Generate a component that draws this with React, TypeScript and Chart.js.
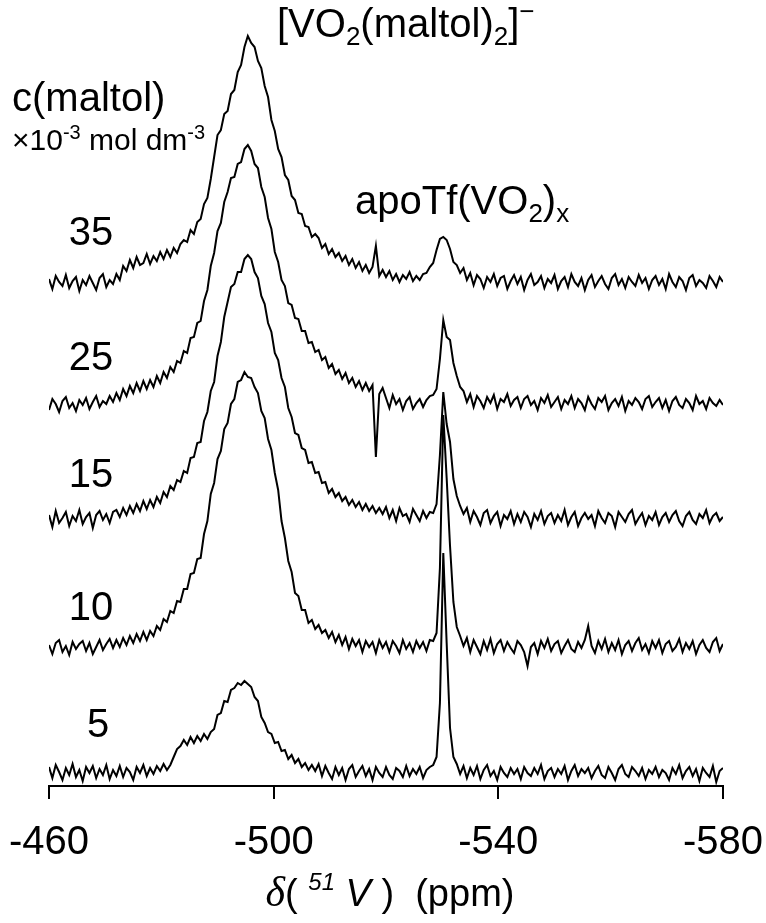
import { useEffect, useRef } from 'react';
import { Chart, registerables } from 'chart.js';

Chart.register(...registerables);

// 51V NMR spectra of apo-transferrin / vanadate with increasing maltol, stacked
const ppmStart = -460;
const ppmStep = -0.6;
const concentrations = ['35', '25', '15', '10', '5'];
const baselineOffsets = [50.3, 38.1, 26.6, 13.8, 1.3];
const xTickValues = [-460, -500, -540, -580];

const spectrum35 = [
  0.4, -0.6, 0.7, 0.1, -0.3, 0.8, -0.5, 0.2, 0.6, -0.8, 0.3, -0.2, 0.7, 0.0, -0.7, 0.5, 0.9, -0.4, 0.3, -0.1,
  0.9, 0.3, 1.7, 1.2, 2.3, 1.5, 2.6, 1.8, 2.0, 2.9, 1.9, 2.7, 2.2, 3.1, 2.4, 3.3, 2.6, 3.5, 3.0, 3.9,
  4.3, 4.1, 5.3, 4.9, 6.1, 6.4, 7.9, 8.5, 10.4, 12.6, 14.8, 15.3, 16.9, 17.2, 18.9, 19.3, 21.1, 21.8, 23.6, 24.7,
  24.0, 23.6, 22.2, 21.5, 19.7, 18.6, 16.3, 15.2, 13.4, 12.6, 10.8, 10.3, 8.7, 8.3, 7.0, 6.9, 5.7, 5.6, 4.6, 4.9,
  4.5, 3.5, 3.9, 2.9, 3.4, 2.6, 3.0, 2.2, 2.7, 1.8, 2.4, 1.5, 2.1, 1.2, 1.8, 1.0, 1.6, 3.7, 0.7, 1.3,
  0.6, 1.2, 0.3, 0.9, 0.1, 0.8, 0.4, 1.1, 0.2, 0.7, 0.3, 0.9, 1.0, 1.6, 2.0, 3.3, 4.4, 4.6, 4.3, 3.4,
  2.1, 1.8, 1.0, 1.5, 0.3, 1.0, -0.2, 0.8, 0.4, -0.5, 0.6, 0.1, 0.9, -0.3, 0.5, 0.7, -0.6, 0.2, 0.8, -0.1,
  0.6, -0.7, 0.3, 0.9, -0.2, 0.1, 0.7, -0.5, 0.4, 0.0, 0.8, -0.6, 0.2, 0.6, -0.4, 0.9, 0.1, -0.3, 0.5, -0.7,
  0.3, 0.8, -0.4, 0.2, 0.7, -0.1, -0.6, 0.5, 0.9, -0.2, 0.4, -0.5, 0.6, 0.1, -0.3, 0.8, 0.0, 0.5, -0.6, 0.3,
  0.7, -0.2, 0.4, -0.6, 0.9, 0.1, -0.4, 0.6, 0.2, -0.7, 0.5, 0.8, -0.3, 0.3, 0.0, -0.5, 0.7, 0.2, -0.4, 0.6,
  0.1,
];

const spectrum25 = [
  -0.5, 0.6, 0.1, -0.7, 0.4, 0.8, -0.3, 0.2, -0.6, 0.5, 0.0, 0.7, -0.4, 0.3, 0.9, -0.2, 0.4, 0.1, 0.9, 0.3,
  1.2, 0.5, 1.6, 0.9, 1.9, 1.2, 2.2, 1.4, 2.4, 1.6, 2.5, 1.8, 2.9, 2.2, 3.3, 2.7, 3.8, 3.3, 4.4, 4.2,
  5.4, 5.2, 6.7, 6.8, 8.2, 8.4, 10.4, 11.5, 13.9, 15.2, 17.4, 18.2, 20.3, 21.3, 22.7, 22.8, 24.1, 24.3, 25.6, 26.0,
  25.4, 24.1, 23.7, 21.8, 20.8, 18.7, 17.6, 15.3, 14.3, 12.5, 11.9, 10.2, 10.0, 8.7, 8.6, 7.4, 7.4, 6.2, 6.3, 5.3,
  5.5, 4.5, 4.8, 3.7, 4.1, 3.1, 3.5, 2.6, 3.2, 2.2, 2.7, 1.8, 2.4, 1.5, 2.2, 1.4, 2.0, -5.2, 1.1, 1.7,
  0.7, -0.3, 1.0, 0.1, 0.6, -0.5, 0.4, 0.8, -0.4, 0.2, 0.6, -0.2, 0.5, 0.9, 1.0, 1.6, 4.6, 8.5, 6.8, 6.5,
  4.2, 2.9, 1.8, 1.4, 0.3, 1.1, -0.2, 0.9, 0.4, -0.3, 0.8, 0.2, 1.0, -0.4, 0.6, 0.3, 1.1, -0.1, 0.5, 0.8,
  -0.3, 0.6, 0.9, 0.0, 0.4, -0.5, 0.7, 0.2, 1.0, -0.2, 0.3, 0.8, -0.4, 0.5, 0.1, 0.9, -0.3, 0.6, 0.2, -0.5,
  0.8, 0.1, -0.4, 0.7, 0.3, 0.9, -0.5, 0.2, 0.6, -0.1, 0.8, -0.6, 0.4, 0.0, 0.7, 0.3, -0.4, 0.6, 0.9, -0.2,
  0.3, 0.7, -0.3, 0.5, -0.6, 0.4, 0.8, 0.0, -0.3, 0.6, 0.2, -0.5, 0.9, 0.1, 0.4, -0.4, 0.7, 0.2, -0.1, 0.5,
  0.0,
];

const spectrum15 = [
  0.5, -0.7, 0.9, -0.3, 0.2, 0.8, -0.6, 0.4, -0.1, 1.0, -0.4, 0.3, 0.7, -0.8, 0.5, 0.9, 0.0, 0.6, -0.3, 0.8,
  1.0, 0.3, 1.2, 0.5, 1.4, 0.7, 1.6, 0.9, 1.9, 1.1, 2.0, 1.3, 2.3, 1.7, 2.8, 2.3, 3.4, 3.0, 4.0, 3.8,
  4.9, 4.7, 6.2, 6.3, 7.7, 7.8, 9.9, 10.8, 12.9, 13.8, 16.4, 17.8, 20.3, 21.8, 23.3, 23.6, 24.8, 24.8, 26.1, 26.5,
  26.1, 24.8, 24.2, 22.4, 21.6, 19.7, 18.8, 16.7, 16.0, 14.2, 13.3, 11.2, 10.3, 8.7, 8.5, 7.2, 7.0, 5.7, 5.8, 4.7,
  4.8, 3.7, 3.8, 2.7, 3.1, 2.3, 2.7, 1.9, 2.3, 1.5, 2.0, 1.3, 1.8, 1.0, 1.6, 0.9, 1.4, 0.7, 1.2, 0.6,
  1.3, 0.2, 1.0, -0.1, 1.2, 0.4, 0.6, -0.2, 1.1, 0.5, -0.1, 0.9, 0.2, 0.8, 0.7, 1.6, 6.5, 12.8, 9.6, 7.8,
  4.1, 2.4, 1.4, 0.6, 1.2, -0.2, 0.9, 0.3, -0.5, 0.7, 1.0, -0.3, 0.4, 0.8, -0.6, 0.5, 0.1, 0.9, -0.4, 0.6,
  -0.2, 0.8, 0.3, -0.7, 0.6, 0.0, 0.9, -0.4, 0.4, 0.7, -0.3, 0.5, -0.1, 1.0, -0.5, 0.3, 0.8, -0.6, 0.2, 0.7,
  0.1, 0.5, -0.6, 0.9, 0.2, -0.3, 0.7, 0.4, -0.7, 0.8, 0.3, -0.2, 0.6, 1.0, -0.4, 0.2, 0.7, -0.5, 0.4, 0.0,
  0.8, -0.5, 0.3, 0.7, -0.2, 0.5, 0.9, -0.1, -0.6, 0.4, 0.8, 0.0, -0.4, 0.6, 0.2, 1.0, -0.3, 0.4, 0.7, -0.1,
  0.3,
];

const spectrum10 = [
  0.3, -0.6, 0.5, 0.8, -0.4, 0.2, -0.7, 0.6, -0.1, 0.4, 0.7, -0.3, 0.5, -0.6, 0.1, 0.8, -0.2, 0.4, 0.9, 0.0,
  0.8, 0.1, 1.0, 0.3, 1.2, 0.5, 1.4, 0.7, 1.6, 0.8, 1.7, 1.2, 2.2, 1.8, 2.9, 2.6, 3.7, 3.5, 4.7, 4.6,
  5.9, 5.9, 7.4, 7.5, 8.9, 9.0, 11.4, 12.7, 15.4, 16.5, 18.9, 19.7, 21.9, 22.5, 24.4, 24.9, 26.6, 26.8, 27.6, 27.1,
  27.0, 26.1, 25.5, 23.7, 23.0, 20.9, 19.8, 17.5, 15.8, 12.7, 11.0, 8.7, 7.6, 5.5, 5.2, 3.8, 3.8, 2.5, 2.8, 1.9,
  2.3, 1.5, 1.8, 1.0, 1.6, 0.6, 1.3, 0.3, 1.1, -0.1, 0.9, 0.2, 0.8, -0.4, 0.7, 0.1, 0.6, -0.5, 0.8, 0.0,
  0.6, -0.4, 0.7, 0.2, -0.5, 0.8, -0.1, 0.5, -0.4, 0.7, 0.0, 0.6, -0.3, 0.8, 0.7, 1.5, 8.0, 23.3, 17.0, 10.2,
  4.6, 2.1, 1.2, 0.2, 1.0, -0.4, 0.8, 0.1, -0.6, 0.7, -0.2, 0.9, -0.5, 0.4, 0.8, -0.3, 0.6, 0.0, -0.5, 0.7,
  0.3, -0.4, -1.8, 0.1, 0.5, -0.6, 0.7, 0.0, 0.9, -0.3, 0.4, 0.7, -0.5, 0.2, 0.8, -0.1, -0.4, 0.6, 0.0, 0.8,
  2.2, 0.2, -0.5, 0.7, -0.1, 0.9, -0.4, 0.5, -0.2, 0.8, -0.6, 0.3, 0.7, -0.3, 0.5, 1.0, -0.2, 0.4, -0.5, 0.7,
  0.0, 0.8, -0.5, 0.4, 0.7, -0.3, 0.1, 0.9, -0.4, 0.5, -0.1, 0.7, -0.6, 0.3, 0.8, 0.0, -0.4, 0.6, 1.0, -0.3,
  0.4,
];

const spectrum5 = [
  0.6, -0.5, 0.8, 0.1, -0.7, 0.5, -0.2, 0.9, -0.4, 0.3, -0.8, 0.6, 0.0, 0.7, -0.5, 0.4, -0.2, 0.8, -0.6, 0.3,
  -0.3, 0.7, -0.4, 0.5, 0.1, -0.7, 0.6, 0.0, 0.8, -0.3, 0.5, -0.1, 0.7, 0.2, 0.9, 0.3, 0.8, 1.6, 2.4, 2.7,
  3.3, 2.8, 3.6, 3.0, 3.7, 3.2, 3.9, 3.4, 4.1, 4.4, 5.8, 6.0, 7.2, 7.1, 8.3, 8.5, 9.0, 8.8, 9.2, 8.9,
  8.6, 7.6, 7.2, 5.6, 5.0, 4.1, 3.9, 3.0, 3.1, 2.2, 2.3, 1.4, 1.8, 1.0, 1.4, 0.6, 1.0, 0.3, 0.8, 0.2,
  0.9, -0.3, 0.7, 0.0, -0.6, 0.6, -0.2, 0.5, -0.7, 0.4, 0.8, -0.4, 0.2, 0.7, -0.3, 0.4, -0.7, 0.6, 0.0, -0.4,
  0.6, -0.2, -0.6, 0.5, 0.2, -0.4, 0.7, -0.3, 0.4, -0.1, 0.6, -0.5, 0.3, 0.6, 0.8, 1.6, 7.0, 22.0, 13.0, 4.5,
  1.6, 0.9, -0.1, 0.7, -0.5, 0.5, -0.2, 0.7, -0.6, 0.3, 0.8, -0.3, 0.2, -0.7, 0.6, 0.0, -0.4, 0.5, -0.1, 0.4,
  -0.6, 0.6, 0.0, -0.3, 0.5, -0.1, 0.8, -0.6, 0.2, 0.5, -0.4, 0.4, -0.1, 0.7, -0.7, 0.2, 0.8, -0.3, 0.4, 0.0,
  0.5, -0.5, 0.2, 0.7, -0.2, -0.5, 0.6, 0.0, -0.7, 0.4, 0.8, -0.1, -0.4, 0.6, 0.2, -0.3, 0.5, -0.6, 0.3, -0.1,
  0.6, -0.4, 0.3, 0.0, -0.7, 0.5, -0.1, 0.8, -0.5, 0.2, 0.6, -0.3, 0.4, -0.8, 0.5, 0.0, -0.4, 0.7, -0.9, 0.2,
  0.5,
];

const spectra = [spectrum35, spectrum25, spectrum15, spectrum10, spectrum5];

const SANS = '"Liberation Sans", Arial, Helvetica, sans-serif';
const SERIF = '"Liberation Serif", "Times New Roman", serif';

type Run = { t: string; size: number; dy?: number; italic?: boolean; family?: string };

function runFont(r: Run) {
  return `${r.italic ? 'italic ' : ''}${r.size}px ${r.family ?? SANS}`;
}

function drawRuns(ctx: CanvasRenderingContext2D, x: number, y: number, runs: Run[], align: 'left' | 'center') {
  let total = 0;
  for (const r of runs) {
    ctx.font = runFont(r);
    total += ctx.measureText(r.t).width;
  }
  let cx = align === 'center' ? x - total / 2 : x;
  ctx.textAlign = 'left';
  ctx.textBaseline = 'alphabetic';
  ctx.fillStyle = '#000';
  for (const r of runs) {
    ctx.font = runFont(r);
    ctx.fillText(r.t, cx, y + (r.dy ?? 0));
    cx += ctx.measureText(r.t).width;
  }
}

// Concentration label anchors (px)
const labelAnchors = [
  { x: 91, y: 245 },
  { x: 91, y: 370 },
  { x: 91, y: 487 },
  { x: 91, y: 620 },
  { x: 98, y: 737 },
];

const annotationPlugin = {
  id: 'spectraAnnotations',
  afterDraw(chart: Chart) {
    const ctx = chart.ctx;
    ctx.save();
    drawRuns(ctx, 277, 37, [
      { t: '[VO', size: 40 },
      { t: '2', size: 26, dy: 8 },
      { t: '(maltol)', size: 40 },
      { t: '2', size: 26, dy: 8 },
      { t: ']', size: 40 },
      { t: '\u2212', size: 26, dy: -17 },
    ], 'left');
    drawRuns(ctx, 355, 214, [
      { t: 'apoTf(VO', size: 40 },
      { t: '2', size: 26, dy: 8 },
      { t: ')', size: 40 },
      { t: 'x', size: 26, dy: 8 },
    ], 'left');
    drawRuns(ctx, 12, 111, [{ t: 'c(maltol)', size: 40 }], 'left');
    drawRuns(ctx, 12, 150, [
      { t: '\u00d710', size: 30 },
      { t: '-3', size: 20, dy: -11 },
      { t: ' mol dm', size: 30 },
      { t: '-3', size: 20, dy: -11 },
    ], 'left');
    concentrations.forEach((c, i) => {
      drawRuns(ctx, labelAnchors[i].x, labelAnchors[i].y, [{ t: c, size: 40 }], 'center');
    });
    drawRuns(ctx, 390, 906, [
      { t: '\u03b4', size: 42, italic: true, family: SERIF },
      { t: '( ', size: 38 },
      { t: '51', size: 24, italic: true, dy: -16 },
      { t: ' V', size: 38, italic: true },
      { t: ' )', size: 38 },
      { t: '  (ppm)', size: 38 },
    ], 'center');
    ctx.restore();
  },
};

export default function App() {
  const canvasRef = useRef<HTMLCanvasElement | null>(null);

  useEffect(() => {
    const canvas = canvasRef.current;
    if (!canvas) return;
    const datasets = spectra.map((values, s) => ({
      label: concentrations[s],
      data: values.map((v, i) => ({ x: ppmStart + ppmStep * i, y: baselineOffsets[s] + v })),
      borderColor: '#000',
      borderWidth: 2,
      pointRadius: 0,
      tension: 0,
      fill: false,
    }));
    const chart = new Chart(canvas, {
      type: 'line',
      data: { datasets },
      options: {
        animation: false,
        responsive: false,
        devicePixelRatio: 1,
        events: [],
        layout: { padding: { left: 49, right: 43, top: 26, bottom: 0 } },
        plugins: { legend: { display: false }, tooltip: { enabled: false } },
        scales: {
          x: {
            type: 'linear',
            min: -580,
            max: -460,
            reverse: true,
            afterBuildTicks: (scale: any) => {
              scale.ticks = xTickValues.map((value) => ({ value }));
            },
            afterFit: (scale: any) => {
              scale.height = 137;
              scale.paddingLeft = 0;
              scale.paddingRight = 0;
            },
            ticks: {
              autoSkip: false,
              maxRotation: 0,
              padding: 20,
              color: '#000',
              font: { family: SANS, size: 40 },
              callback: (value: any) => String(value),
            },
            grid: {
              display: true,
              drawOnChartArea: false,
              drawTicks: true,
              tickLength: 13,
              color: '#000',
              lineWidth: 2,
            },
            border: { display: true, color: '#000', width: 2 },
          },
          y: { type: 'linear', display: false, min: 0, max: 76 },
        },
      },
      plugins: [annotationPlugin],
    });
    return () => chart.destroy();
  }, []);

  return (
    <div style={{ position: 'fixed', left: 0, top: 0, width: 766, height: 923, background: '#fff' }}>
      <canvas ref={canvasRef} width={766} height={923} style={{ display: 'block' }} />
    </div>
  );
}
